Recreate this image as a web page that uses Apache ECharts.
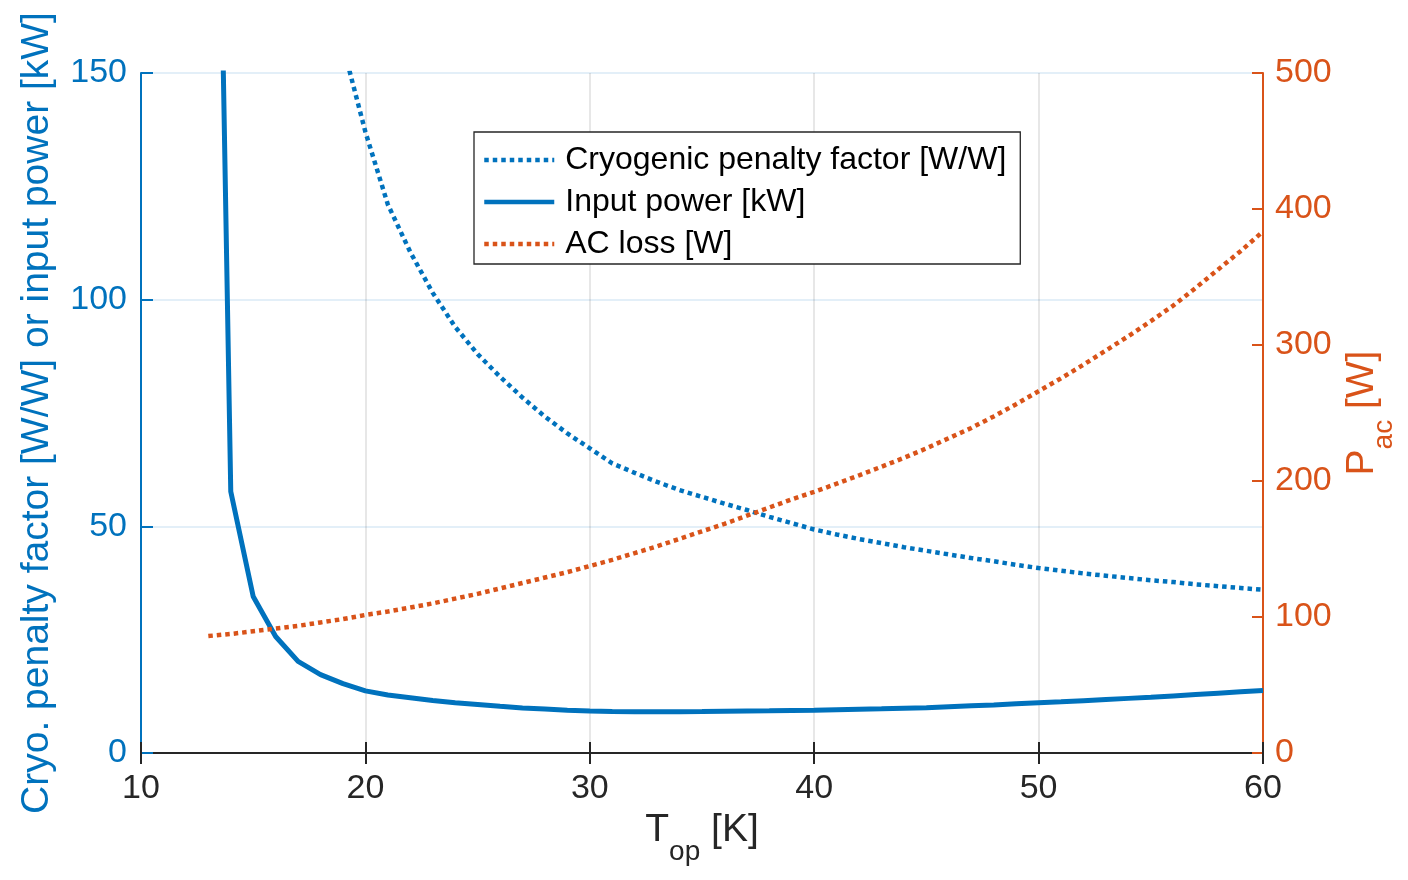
<!DOCTYPE html>
<html>
<head>
<meta charset="utf-8">
<script src="https://cdn.jsdelivr.net/npm/echarts@6/dist/echarts.min.js"></script>
<style>
html,body{margin:0;padding:0;background:#fff;}
#chart{width:1408px;height:880px;}
</style>
</head>
<body>
<div id="chart"></div>
<script>
// Operating temperature [K]
const temps = [13,14,15,16,17,18,19,20,21,22,23,24,25,26,27,28,29,30,31,32,33,34,35,36,37,38,39,40,41,42,43,44,45,46,47,48,49,50,51,52,53,54,55,56,57,58,59,60];
// Cryogenic penalty factor [W/W] (above axis limit for T < 19)
const penaltyFactor = [null,null,null,null,null,null,156,137,121,110.5,101.5,94,88,83,78.4,74.2,70.5,67.2,63.9,61.8,59.8,58.0,56.5,55.0,53.6,52.1,50.7,49.3,48.2,47.2,46.3,45.4,44.6,43.8,43.0,42.3,41.5,40.8,40.2,39.6,39.1,38.6,38.1,37.7,37.2,36.8,36.4,36.0];
// Input power [kW]
const inputPower = [337,57.7,34.5,25.7,20.2,17.3,15.3,13.7,12.8,12.2,11.6,11.1,10.7,10.3,9.95,9.7,9.45,9.27,9.15,9.1,9.1,9.12,9.15,9.2,9.25,9.3,9.38,9.45,9.55,9.65,9.75,9.88,10.0,10.2,10.4,10.6,10.85,11.1,11.3,11.55,11.8,12.05,12.3,12.6,12.9,13.2,13.5,13.8];
// AC loss [W]
const acLoss = [86,87.5,89.5,91.5,93.5,96,98.5,101.5,104,107,110,113.5,117,121,125,129,133,137.5,142,147,152,157.5,163,168.5,174.5,180.5,186.5,192,198,204.2,210.5,217,224,231.5,239,247.5,256.5,266,275.5,285.5,296,306.5,317.5,329,342,355.5,369,383.5];

const seriesNames = ['Cryogenic penalty factor [W/W]','Input power [kW]','AC loss [W]'];

const BLUE = '#0072BD';
const ORANGE = '#D95319';
const DARK = '#262626';
const FONT = '"Liberation Sans", Arial, Helvetica, sans-serif';

function pairs(ys){ return temps.map((t,i)=>[t, ys[i]==null ? '-' : ys[i]]); }
function subRich(color){
  return {
    a:{fontSize:39, color:color, fontFamily:FONT, lineHeight:30, padding:[0,0,22,0]},
    b:{fontSize:28, color:color, fontFamily:FONT, lineHeight:30, padding:[22,0,0,0]}
  };
}

const chart = echarts.init(document.getElementById('chart'), null, {renderer:'canvas'});
const option = {
  backgroundColor:'#ffffff',
  animation:false,
  textStyle:{fontFamily:FONT},
  grid:{left:141, right:145, top:73, bottom:127, containLabel:false, outerBoundsMode:'none'},
  legend:{
    orient:'vertical',
    left:474, top:132,
    data:seriesNames,
    itemWidth:70, itemHeight:14, itemGap:4,
    padding:[9,14,1,8],
    borderColor:DARK, borderWidth:1.3,
    backgroundColor:'#ffffff',
    itemStyle:{opacity:0},
    lineStyle:{width:4.5},
    textStyle:{fontSize:32, color:'#000', fontFamily:FONT, lineHeight:38, padding:[0,0,0,6]}
  },
  xAxis:[{
    type:'value', min:10, max:60, interval:10, position:'bottom',
    name:'{a|T}{b|op}{a| [K]}', nameLocation:'middle', nameGap:72,
    nameTextStyle:{rich:subRich(DARK)},
    axisLine:{show:true, lineStyle:{color:DARK, width:2}},
    axisTick:{show:true, inside:true, length:11, lineStyle:{color:DARK, width:2}},
    axisLabel:{color:DARK, fontSize:34, margin:19, fontFamily:FONT},
    splitLine:{show:true, lineStyle:{color:'rgba(38,38,38,0.15)', width:1.5}}
  },{
    type:'value', min:10, max:60, interval:10, position:'top',
    axisLine:{show:true, lineStyle:{color:DARK, width:2}},
    axisTick:{show:true, inside:true, length:11, lineStyle:{color:DARK, width:2}},
    axisLabel:{show:false},
    splitLine:{show:false}
  }],
  yAxis:[{
    type:'value', min:0, max:150, interval:50, position:'left',
    name:'Cryo. penalty factor [W/W] or input power [kW]',
    nameLocation:'middle', nameRotate:90, nameGap:84,
    nameTextStyle:{fontSize:39, color:BLUE, fontFamily:FONT},
    axisLine:{show:true, lineStyle:{color:BLUE, width:2}},
    axisTick:{show:true, inside:true, length:12, lineStyle:{color:BLUE, width:2}},
    axisLabel:{color:BLUE, fontSize:34, margin:14, fontFamily:FONT},
    splitLine:{show:true, lineStyle:{color:'rgba(0,114,189,0.15)', width:1.5}}
  },{
    type:'value', min:0, max:500, interval:100, position:'right',
    name:'{a|P}{b|ac}{a| [W]}',
    nameLocation:'middle', nameRotate:90, nameGap:93,
    nameTextStyle:{rich:subRich(ORANGE)},
    axisLine:{show:true, lineStyle:{color:ORANGE, width:2}},
    axisTick:{show:true, inside:true, length:11, lineStyle:{color:ORANGE, width:2}},
    axisLabel:{color:ORANGE, fontSize:34, margin:12, fontFamily:FONT},
    splitLine:{show:false}
  }],
  series:[{
    name:seriesNames[0], type:'line', xAxisIndex:0, yAxisIndex:0,
    data:pairs(penaltyFactor), showSymbol:false, symbol:'none', clip:true,
    lineStyle:{color:BLUE, width:4.5, type:[4.5,4], cap:'butt'},
    itemStyle:{color:BLUE}, z:3
  },{
    name:seriesNames[1], type:'line', xAxisIndex:0, yAxisIndex:0,
    data:pairs(inputPower), showSymbol:false, symbol:'none', clip:true,
    lineStyle:{color:BLUE, width:5, type:'solid'},
    itemStyle:{color:BLUE}, z:3
  },{
    name:seriesNames[2], type:'line', xAxisIndex:0, yAxisIndex:1,
    data:pairs(acLoss), showSymbol:false, symbol:'none', clip:true,
    lineStyle:{color:ORANGE, width:4.5, type:[4.5,4], cap:'butt'},
    itemStyle:{color:ORANGE}, z:3
  }]
};
chart.setOption(option);
</script>
</body>
</html>
